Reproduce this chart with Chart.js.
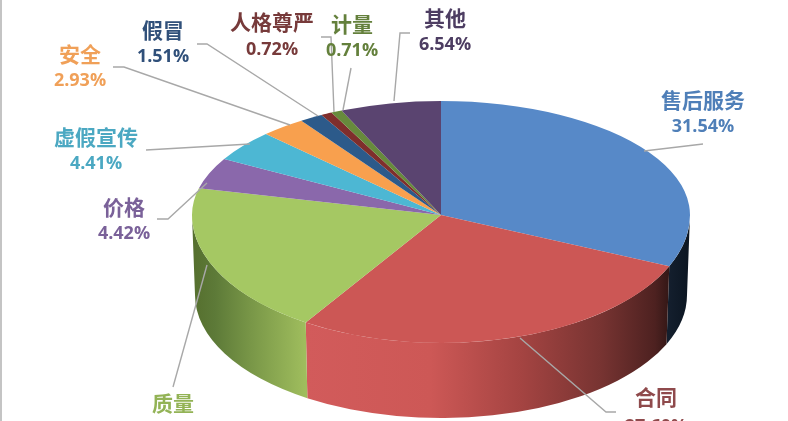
<!DOCTYPE html>
<html>
<head>
<meta charset="utf-8">
<style>
html,body{margin:0;padding:0;background:#fff;overflow:hidden;}
#wrap{position:relative;width:788px;height:421px;overflow:hidden;}
#Grafico1{position:absolute;left:0;top:0;filter:blur(0.55px);}
#borde{position:absolute;left:0;top:0;width:2px;height:421px;background:#c4c4c4;}
</style>
</head>
<body>
<div id="wrap">
<canvas id="Grafico1" width="788" height="421"></canvas>
<div id="borde"></div>
</div>
<script src="https://cdn.jsdelivr.net/npm/chart.js@4"></script>
<script>
const categorias = ['售后服务','合同','质量','价格','虚假宣传','安全','假冒','人格尊严','计量','其他'];
const valores = [31.54,27.6,19.62,4.42,4.41,2.93,1.51,0.72,0.71,6.54];

const colores = ['#5789c8','#cc5755','#a5c863','#8a68ab','#4db7d3','#f8a04e','#2c5a8a','#7f2e2c','#678a3c','#5a4470'];
const coloresTexto = ['#4f7fb8','#8f4a4c','#93b356','#7a6199','#4ba8c2','#f0a058','#30507a','#773a3a','#64803c','#4d3d62'];

// image position of each label (center x, name y, percent y) and its leader line
const posTexto = [[703,100,127],[656,397,427],[173,403,430],[124,207,234],[96,137,164],[80,54,81],[163,30,57],[272,22,50],[352,24,51],[445,18,45]];
const lineas = [
    [[703,144],[644,151]],
    [[520,338],[606,412],[616,412]],
    [[207,265],[173,387]],
    [[157,219],[168,219],[207,183]],
    [[146,150],[250,144]],
    [[113,67],[124,67],[290,125]],
    [[197,44],[207,44],[318,116]],
    [[321,37],[331,37],[334,112]],
    [[351,68],[343,110]],
    [[410,33],[400,33],[394,101]]
];

// top face: the far half is flatter than the near half, as in a perspective view
const arriba = {x:441,y:215,rx:249,ryFondo:114,ryFrente:128};
const abajo = {x:441,y:295,rx:246,ry:123};

// gradient of the visible wall of each slice: [x, color]
const paredes = {
    0: [[668,'#141f2e'],[688,'#0c1622']],
    1: [[305,'#d25b5b'],[430,'#cd5856'],[520,'#a54442'],[600,'#783432'],[655,'#4d2120'],[672,'#2e1514']],
    2: [[195,'#56702f'],[215,'#5d7a38'],[250,'#789647'],[305,'#9fbd5d']]
};

function dibujarMitad(chart,arcos,clipY,clipH,ry){
    const ctx = chart.ctx;
    const r = arcos[0].outerRadius;
    ctx.save();
    ctx.beginPath();
    ctx.rect(0,clipY,chart.width,clipH);
    ctx.clip();
    ctx.translate(arriba.x,arriba.y);
    ctx.scale(arriba.rx/r,ry/r);
    ctx.translate(-arcos[0].x,-arcos[0].y);
    arcos.forEach(arco => arco.draw(ctx));
    ctx.restore();
}

const pie3d = {
    id:'pie3d',
    beforeDatasetsDraw(chart){
        const ctx = chart.ctx;
        const arcos = chart.getDatasetMeta(0).data;
        arcos.forEach((arco,i) => {
            if(!paredes[i]) return;
            const a = Math.max(arco.startAngle,0);
            const b = Math.min(arco.endAngle,Math.PI);
            if(b<=a) return;
            const stops = paredes[i];
            const x0 = stops[0][0], x1 = stops[stops.length-1][0];
            const grad = ctx.createLinearGradient(x0,0,x1,0);
            stops.forEach(s => grad.addColorStop((s[0]-x0)/(x1-x0),s[1]));
            ctx.beginPath();
            ctx.ellipse(arriba.x,arriba.y,arriba.rx,arriba.ryFrente,0,a,b);
            ctx.ellipse(abajo.x,abajo.y,abajo.rx,abajo.ry,0,b,a,true);
            ctx.closePath();
            ctx.fillStyle = grad;
            ctx.fill();
        });
        dibujarMitad(chart,arcos,0,arriba.y,arriba.ryFondo);
        dibujarMitad(chart,arcos,arriba.y,chart.height-arriba.y,arriba.ryFrente);
        return false;
    },
    afterDraw(chart){
        const ctx = chart.ctx;
        ctx.strokeStyle = '#a8a8a8';
        ctx.lineWidth = 1.4;
        lineas.forEach(l => {
            ctx.beginPath();
            l.forEach((p,i) => i==0 ? ctx.moveTo(p[0],p[1]) : ctx.lineTo(p[0],p[1]));
            ctx.stroke();
        });
        ctx.textAlign = 'center';
        ctx.textBaseline = 'middle';
        categorias.forEach((nombre,i) => {
            const p = posTexto[i];
            ctx.fillStyle = coloresTexto[i];
            ctx.font = 'bold 21px "Noto Sans CJK SC"';
            ctx.fillText(nombre,p[0],p[1]);
            ctx.font = 'bold 18px "Open Sans"';
            ctx.fillText(valores[i].toFixed(2)+'%',p[0],p[2]);
        });
    }
};

new Chart(document.getElementById('Grafico1').getContext('2d'),{
    type:'pie',
    data:{
        labels:categorias,
        datasets:[{data:valores,backgroundColor:colores,borderWidth:0}]
    },
    options:{
        responsive:false,
        animation:false,
        radius:200,
        plugins:{legend:{display:false},tooltip:{enabled:false}}
    },
    plugins:[pie3d]
});
</script>
</body>
</html>
